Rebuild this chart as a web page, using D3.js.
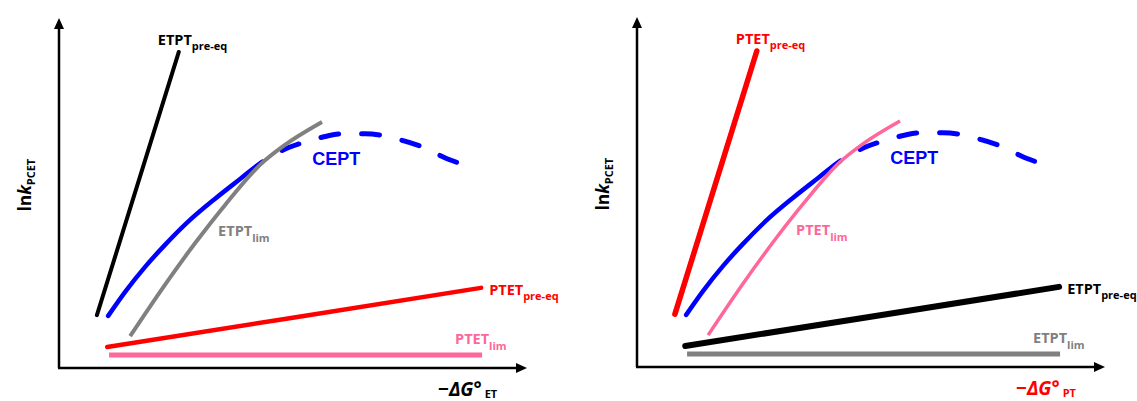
<!DOCTYPE html>
<html><head><meta charset="utf-8">
<script src="https://cdn.jsdelivr.net/npm/d3@7"></script>
<style>
html,body{margin:0;padding:0;background:#fff;overflow:hidden;}
text{font-family:"Open Sans","Liberation Sans",sans-serif;font-weight:bold;}
</style></head>
<body>
<svg id="chart" width="1137" height="401"></svg>
<script>
// ---- data (arbitrary units, 0..100 on both axes) ----
const steepLine   = [[8.1,15.1],[25.6,90.3]];
const ceptCurve   = [[10.5,14.9],[14.1,21.7],[18.4,28.9],[22.6,35.1],[28.0,42.3],[33.3,48.3],[38.7,54.0],[43.4,58.9],
                     [47.9,62.3],[51.9,64.3],[56.4,66.0],[60.7,66.9],[65.4,66.9],[69.7,66.3],[74.4,64.6],[78.2,62.9],[82.1,60.3],[85.3,58.6]];
const ceptDashFrom = 43.4;   // x value where CEPT turns dashed
const limCurve    = [[15.2,9.1],[22.6,23.7],[29.1,35.7],[35.5,46.6],[43.4,58.6],[47.9,63.4],[56.2,70.3]];
const shallowLine = [[10.3,6.0],[49.6,14.3],[90.2,22.9]];
const flatLine    = [[10.7,3.7],[90.4,3.7]];

const panelNames    = ["ET", "PT"];
const steepLabels   = ["ETPT", "PTET"];
const curveLabels   = ["ETPT", "PTET"];
const shallowLabels = ["PTET", "ETPT"];
const flatLabels    = ["PTET", "ETPT"];

// ---- layout ----
const W = 468, H = 350;
const panels = [
  {ox:59, oy:18, name:panelNames[0], xlabColor:"#000",
   steep:{lab:steepLabels[0], sub:"pre-eq", color:"#000", w:4},
   curve:{lab:curveLabels[0], sub:"lim", color:"#808080", w:4},
   shallow:{lab:shallowLabels[0], sub:"pre-eq", color:"#ff0000", w:4.5},
   flat:{lab:flatLabels[0], sub:"lim", color:"#ff6699", w:5}},
  {ox:637, oy:17, name:panelNames[1], xlabColor:"#ff0000",
   steep:{lab:steepLabels[1], sub:"pre-eq", color:"#ff0000", w:5.5},
   curve:{lab:curveLabels[1], sub:"lim", color:"#ff6699", w:3.5},
   shallow:{lab:shallowLabels[1], sub:"pre-eq", color:"#000", w:6},
   flat:{lab:flatLabels[1], sub:"lim", color:"#808080", w:5}}
];

const svg = d3.select("#chart");
const defs = svg.append("defs");
const x = d3.scaleLinear().domain([0,100]).range([0,W]);
const y = d3.scaleLinear().domain([0,100]).range([H,0]);
const line = d3.line().x(d=>x(d[0])).y(d=>y(d[1])).curve(d3.curveMonotoneX);

// clip regions for solid / dashed parts of CEPT
defs.append("clipPath").attr("id","clipSolid").append("rect")
  .attr("x",-10).attr("y",-10).attr("width",x(ceptDashFrom)+10).attr("height",H+20);
defs.append("clipPath").attr("id","clipDash").append("rect")
  .attr("x",x(ceptDashFrom)).attr("y",-10).attr("width",W).attr("height",H+20);

function label(g, px, py, main, sub, color, size, subSize){
  const t = g.append("text").attr("x",px).attr("y",py).attr("fill",color).style("font-size",size+"px");
  t.append("tspan").text(main);
  t.append("tspan").attr("dy",subSize*0.5).style("font-size",subSize+"px").text(sub);
}

panels.forEach(p=>{
  const g = svg.append("g").attr("transform",`translate(${p.ox},${p.oy})`);
  // axes
  g.append("line").attr("x1",0).attr("y1",H).attr("x2",0).attr("y2",8).attr("stroke","#000").attr("stroke-width",2.5);
  g.append("path").attr("d",`M0,0 L-5,11 L5,11 Z`).attr("fill","#000");
  g.append("line").attr("x1",-1).attr("y1",H).attr("x2",W-10).attr("y2",H).attr("stroke","#000").attr("stroke-width",2.5);
  g.append("path").attr("d",`M${W},${H} L${W-11},${H-5} L${W-11},${H+5} Z`).attr("fill","#000");

  // series
  g.append("path").attr("d",line(flatLine)).attr("fill","none").attr("stroke",p.flat.color).attr("stroke-width",p.flat.w);
  g.append("path").attr("d",line(shallowLine)).attr("fill","none").attr("stroke",p.shallow.color).attr("stroke-width",p.shallow.w).attr("stroke-linecap","round");
  g.append("path").attr("d",line(steepLine)).attr("fill","none").attr("stroke",p.steep.color).attr("stroke-width",p.steep.w).attr("stroke-linecap","round");

  const solid = g.append("path").attr("d",line(ceptCurve)).attr("fill","none").attr("stroke","#0000ff")
    .attr("stroke-width",4.5).attr("stroke-linecap","round").attr("clip-path","url(#clipSolid)");
  // find arc length where dashing starts
  const node = solid.node(), total = node.getTotalLength(), xs = x(ceptDashFrom);
  let lo = 0, hi = total;
  for(let i=0;i<40;i++){ const m=(lo+hi)/2; if(node.getPointAtLength(m).x < xs) lo=m; else hi=m; }
  const dash = 18, gap = 23, period = dash+gap;
  const off = ((dash - lo) % period + period) % period;
  g.append("path").attr("d",line(ceptCurve)).attr("fill","none").attr("stroke","#0000ff").attr("stroke-width",5)
    .attr("stroke-dasharray",`${dash},${gap}`).attr("stroke-dashoffset",off).attr("stroke-linecap","round")
    .attr("clip-path","url(#clipDash)");

  g.append("path").attr("d",line(limCurve)).attr("fill","none").attr("stroke",p.curve.color).attr("stroke-width",p.curve.w);

  // labels (positioned relative to series ends)
  const se = steepLine[steepLine.length-1];
  label(g, x(se[0])-21, y(se[1])-7, p.steep.lab, p.steep.sub, p.steep.color, 14.5, 11);
  const sh = shallowLine[shallowLine.length-1];
  label(g, x(sh[0])+8, y(sh[1])+7, p.shallow.lab, p.shallow.sub, p.shallow.color, 14.5, 11);
  const fl = flatLine[flatLine.length-1];
  label(g, x(fl[0])-27, y(fl[1])-11, p.flat.lab, p.flat.sub, p.flat.color, 14.5, 11);
  label(g, x(34.0), y(37.7), p.curve.lab, p.curve.sub, p.curve.color, 14.5, 11);
  g.append("text").attr("x",x(54.1)).attr("y",y(58.0)).attr("fill","#0000ff")
    .style("font-family","'Liberation Sans',Arial,sans-serif").style("font-size","18px").text("CEPT");

  // x-axis title
  const xt = g.append("text").attr("x",W-89).attr("y",H+28).attr("fill",p.xlabColor).style("font-size","19px");
  xt.append("tspan").text("\u2212");
  xt.append("tspan").style("font-style","italic").text("\u0394G");
  xt.append("tspan").text("\u00B0");
  xt.append("tspan").attr("dx",3).attr("dy",2).style("font-size","11px").text(p.name);

  // y-axis title
  const yt = g.append("text").attr("transform",`translate(-28,${H/2-8}) rotate(-90)`).attr("text-anchor","middle")
    .attr("fill","#000").style("font-size","17px");
  yt.append("tspan").text("ln");
  yt.append("tspan").style("font-style","italic").text("k");
  yt.append("tspan").attr("dy",4).style("font-size","11px").text("PCET");
});
</script>
</body></html>
